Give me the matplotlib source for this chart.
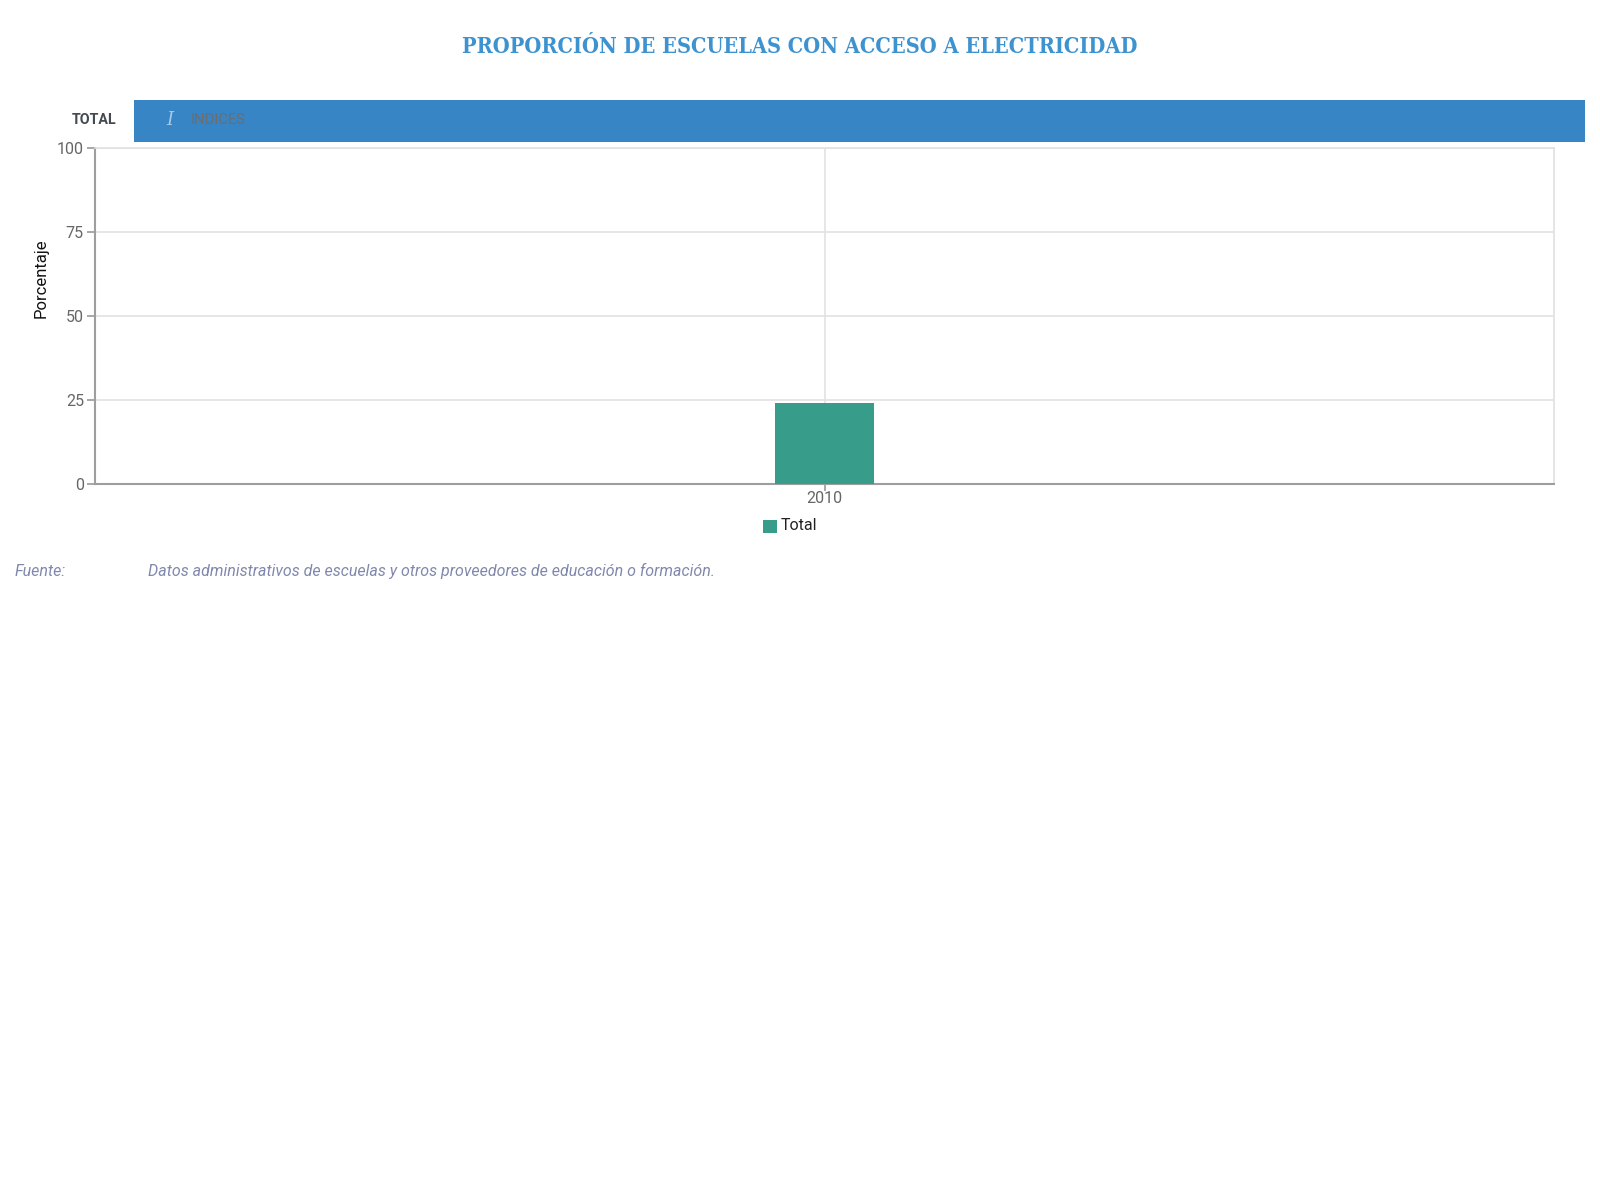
import matplotlib.pyplot as plt
from matplotlib.patches import Rectangle

# Data
years = ["2010"]
total = [24.0]
y_ticks = [0, 25, 50, 75, 100]

title = "PROPORCIÓN DE ESCUELAS CON ACCESO A ELECTRICIDAD"
source_label = "Fuente:"
source_text = "Datos administrativos de escuelas y otros proveedores de educación o formación."

plt.rcParams['font.family'] = ['Roboto', 'DejaVu Sans']

W, H = 1600, 1200
fig = plt.figure(figsize=(16, 12), dpi=100)

def fx(px):
    return px / W

def fy(py):
    return 1 - py / H

# title
fig.text(0.5, fy(47), title, ha='center', va='center', fontsize=15.6,
         fontweight='bold', color='#3d92d0', family=['DejaVu Serif'],
         fontstretch='condensed')

# tab header band
fig.patches.append(Rectangle((fx(134), fy(142)), fx(1585) - fx(134), fy(100) - fy(142),
                             transform=fig.transFigure, facecolor='#3785c5',
                             edgecolor='none'))
fig.text(fx(72), fy(120), "TOTAL", ha='left', va='center', fontsize=10.3,
         fontweight='bold', color='#444a50')
fig.text(fx(166), fy(120), "I", ha='left', va='center', fontsize=13,
         style='italic', color='#a8c8e8', family=['DejaVu Serif'])
fig.text(fx(191), fy(120), "INDICES", ha='left', va='center', fontsize=10.6,
         color='#6d6d6d')

# axes
ax = fig.add_axes([fx(95), fy(484), fx(1554) - fx(95), fy(148) - fy(484)])
x = list(range(len(years)))
ax.bar(x, total, width=0.068, color='#379c89', zorder=3)
ax.set_xlim(-0.5, 0.5)
ax.set_ylim(0, 100)
ax.set_yticks(y_ticks)
ax.set_xticks(x)
ax.set_xticklabels(years)
ax.grid(True, color='#e2e2e2', linewidth=1.2, zorder=0)
ax.tick_params(axis='both', colors='#999999', labelcolor='#666666', labelsize=11.5,
               length=6, width=1.2, pad=2)
ax.tick_params(axis='x', length=5, pad=0)
for side in ['top', 'right']:
    ax.spines[side].set_color('#e0e0e0')
    ax.spines[side].set_linewidth(1.2)
for side in ['left', 'bottom']:
    ax.spines[side].set_color('#9e9e9e')
    ax.spines[side].set_linewidth(1.5)
ax.set_ylabel("Porcentaje", fontsize=12, color='#111111')
ax.yaxis.set_label_coords(-0.0315, 0.614)

# legend
fig.patches.append(Rectangle((fx(763), fy(533)), fx(14), fy(520) - fy(533),
                             transform=fig.transFigure, facecolor='#379c89',
                             edgecolor='none'))
fig.text(fx(781), fy(526), "Total", ha='left', va='center', fontsize=11.5,
         color='#222222')

# source
fig.text(fx(15), fy(571), source_label, ha='left', va='center', fontsize=11.5,
         style='italic', color='#8088ad')
fig.text(fx(148), fy(571), source_text, ha='left', va='center', fontsize=11.5,
         style='italic', color='#8088ad')

fig.savefig("out.png", dpi=100, facecolor='white')
